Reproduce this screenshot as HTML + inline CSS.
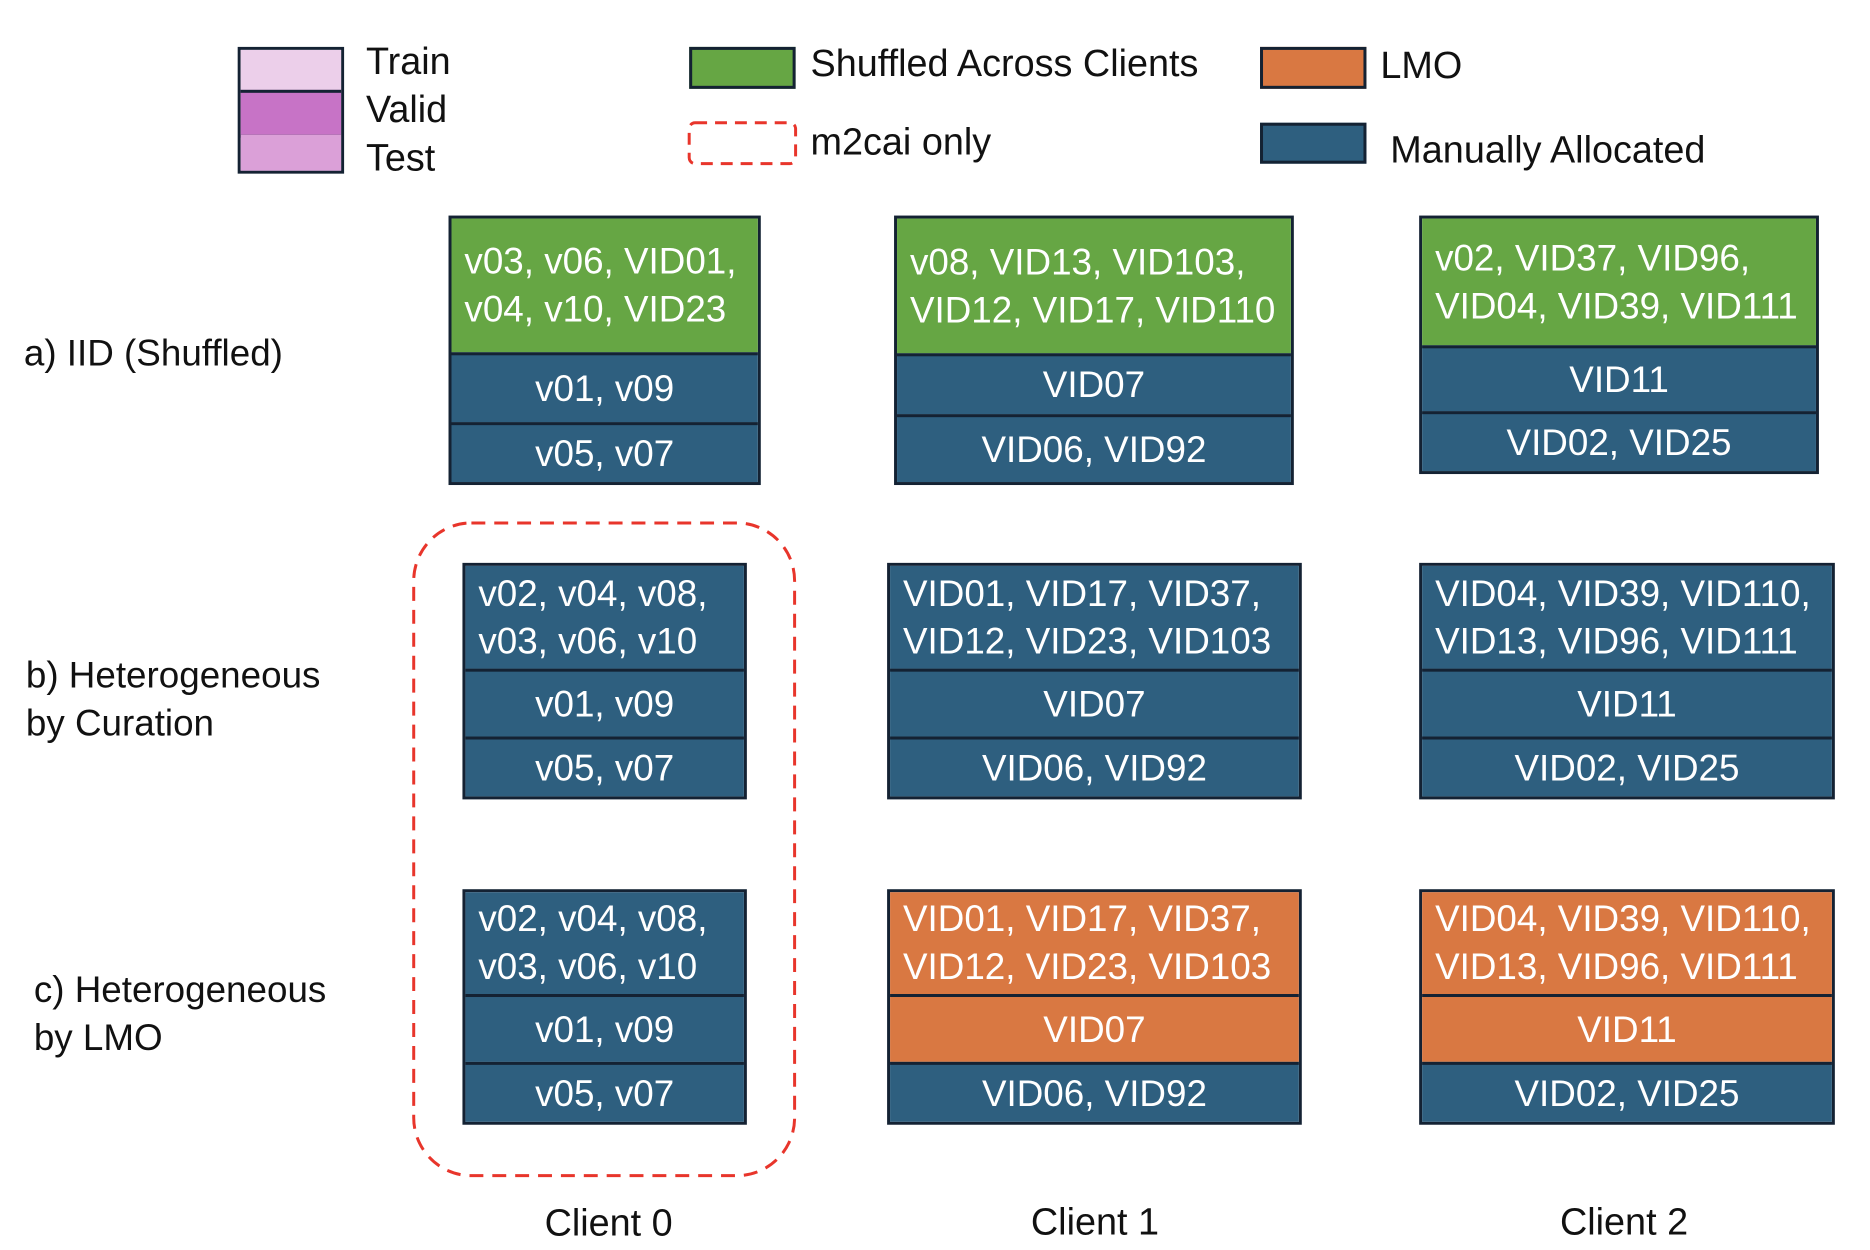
<!DOCTYPE html>
<html><head><meta charset="utf-8"><style>
body{margin:0;width:1870px;height:1250px;background:#fff;position:relative;font-family:"Liberation Sans",Arial,sans-serif;overflow:hidden}
#w{position:absolute;left:0;top:0;width:1870px;height:1250px;transform:scale(0.9945,0.998);transform-origin:0 0}
.a{position:absolute}
.t{position:absolute;font-size:37px;color:#111;white-space:nowrap;line-height:40px}
.L{font-size:38px}
.box{position:absolute;border:3px solid #142233;box-sizing:border-box}
.c{position:absolute;left:0;right:0;box-sizing:border-box;border-top:3px solid #142233;color:#fff;font-size:37px;display:flex;align-items:center;justify-content:center;white-space:nowrap}
.c:first-child{border-top:none}
.m{justify-content:flex-start;padding-left:13px;line-height:48px}
.g{background:#66A644}.b{background:#2E5F7F}.o{background:#D97842}
</style></head><body><div id="w">
<!-- legend -->
<div class="box" style="left:239px;top:47px;width:107px;height:127px">
 <div class="a" style="left:0;right:0;top:0;height:40px;background:#ECCFEA"></div>
 <div class="a" style="left:0;right:0;top:40px;height:42px;background:#C773C6;border-top:3px solid #142233;border-bottom:3px solid #142233"></div>
 <div class="a" style="left:0;right:0;top:85px;bottom:0;background:#DBA0D8"></div>
</div>
<div class="t L" style="left:368px;top:42px">Train</div>
<div class="t L" style="left:368px;top:90px">Valid</div>
<div class="t L" style="left:368px;top:139px">Test</div>
<div class="box g" style="left:693px;top:47px;width:107px;height:42px"></div>
<div class="t L" style="left:815px;top:44px">Shuffled Across Clients</div>
<svg class="a" style="left:690px;top:120px" width="114" height="48"><rect x="3" y="3" width="107" height="41" rx="6" fill="none" stroke="#E8352B" stroke-width="3" stroke-dasharray="12 8"/></svg>
<div class="t L" style="left:815px;top:123px">m2cai only</div>
<div class="box o" style="left:1267px;top:47px;width:107px;height:42px"></div>
<div class="t L" style="left:1388px;top:46px">LMO</div>
<div class="box b" style="left:1267px;top:123px;width:107px;height:41px"></div>
<div class="t L" style="left:1398px;top:131px">Manually Allocated</div>

<!-- row labels -->
<div class="t" style="left:24px;top:334px">a) IID (Shuffled)</div>
<div class="t" style="left:26px;top:657px">b) Heterogeneous</div>
<div class="t" style="left:26px;top:705px">by Curation</div>
<div class="t" style="left:34px;top:972px">c) Heterogeneous</div>
<div class="t" style="left:34px;top:1020px">by LMO</div>

<!-- dashed group -->
<svg class="a" style="left:413px;top:521px" width="390" height="661"><rect x="3" y="3" width="383" height="654" rx="58" fill="none" stroke="#E8352B" stroke-width="3" stroke-dasharray="14 9"/></svg>

<!-- a) -->
<div class="box" style="left:451px;top:216px;width:314px;height:270px">
 <div class="c g m" style="top:0;height:134px">v03, v06, VID01,<br>v04, v10, VID23</div>
 <div class="c b" style="top:134px;height:70px">v01, v09</div>
 <div class="c b" style="top:204px;height:60px">v05, v07</div>
</div>
<div class="box" style="left:899px;top:216px;width:402px;height:270px">
 <div class="c g m" style="top:0;height:135px">v08, VID13, VID103,<br>VID12, VID17, VID110</div>
 <div class="c b" style="top:135px;height:61px">VID07</div>
 <div class="c b" style="top:196px;height:68px">VID06, VID92</div>
</div>
<div class="box" style="left:1427px;top:216px;width:402px;height:259px">
 <div class="c g m" style="top:0;height:127px">v02, VID37, VID96,<br>VID04, VID39, VID111</div>
 <div class="c b" style="top:127px;height:66px">VID11</div>
 <div class="c b" style="top:193px;height:60px">VID02, VID25</div>
</div>

<!-- b) -->
<div class="box" style="left:465px;top:564px;width:286px;height:237px">
 <div class="c b m" style="top:0;height:103px">v02, v04, v08,<br>v03, v06, v10</div>
 <div class="c b" style="top:103px;height:68px">v01, v09</div>
 <div class="c b" style="top:171px;height:60px">v05, v07</div>
</div>
<div class="box" style="left:892px;top:564px;width:417px;height:237px">
 <div class="c b m" style="top:0;height:103px">VID01, VID17, VID37,<br>VID12, VID23, VID103</div>
 <div class="c b" style="top:103px;height:68px">VID07</div>
 <div class="c b" style="top:171px;height:60px">VID06, VID92</div>
</div>
<div class="box" style="left:1427px;top:564px;width:418px;height:237px">
 <div class="c b m" style="top:0;height:103px">VID04, VID39, VID110,<br>VID13, VID96, VID111</div>
 <div class="c b" style="top:103px;height:68px">VID11</div>
 <div class="c b" style="top:171px;height:60px">VID02, VID25</div>
</div>

<!-- c) -->
<div class="box" style="left:465px;top:891px;width:286px;height:236px">
 <div class="c b m" style="top:0;height:102px">v02, v04, v08,<br>v03, v06, v10</div>
 <div class="c b" style="top:102px;height:68px">v01, v09</div>
 <div class="c b" style="top:170px;height:60px">v05, v07</div>
</div>
<div class="box" style="left:892px;top:891px;width:417px;height:236px">
 <div class="c o m" style="top:0;height:102px">VID01, VID17, VID37,<br>VID12, VID23, VID103</div>
 <div class="c o" style="top:102px;height:68px">VID07</div>
 <div class="c b" style="top:170px;height:60px">VID06, VID92</div>
</div>
<div class="box" style="left:1427px;top:891px;width:418px;height:236px">
 <div class="c o m" style="top:0;height:102px">VID04, VID39, VID110,<br>VID13, VID96, VID111</div>
 <div class="c o" style="top:102px;height:68px">VID11</div>
 <div class="c b" style="top:170px;height:60px">VID02, VID25</div>
</div>

<!-- client labels -->
<div class="t L" style="left:512px;top:1206px;width:200px;text-align:center">Client 0</div>
<div class="t L" style="left:1001px;top:1205px;width:200px;text-align:center">Client 1</div>
<div class="t L" style="left:1533px;top:1205px;width:200px;text-align:center">Client 2</div>
</div></body></html>
